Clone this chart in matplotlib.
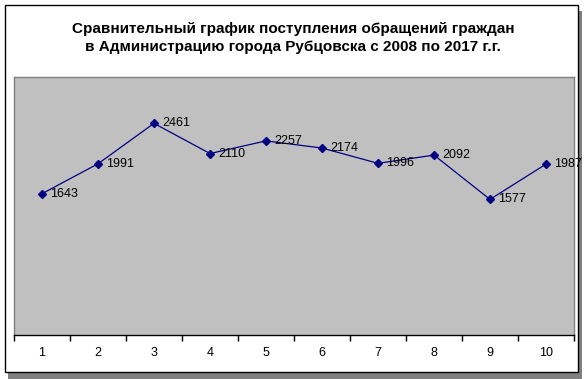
import matplotlib.pyplot as plt
from matplotlib.patches import Rectangle

years = [1, 2, 3, 4, 5, 6, 7, 8, 9, 10]
appeals = [1643, 1991, 2461, 2110, 2257, 2174, 1996, 2092, 1577, 1987]
title = ('Сравнительный график поступления обращений граждан\n'
         'в Администрацию города Рубцовска с 2008 по 2017 г.г.')

plt.rcParams['font.family'] = ['Liberation Sans', 'DejaVu Sans']

fig = plt.figure(figsize=(5.86, 3.79), dpi=100)
fig.patch.set_facecolor('white')

# outer chart frame with shadow
fig.patches.append(Rectangle((8 / 586, 0 / 379), 574 / 586, 368 / 379,
                             transform=fig.transFigure, facecolor='#808080',
                             edgecolor='none', zorder=0))
fig.patches.append(Rectangle((5 / 586, 7 / 379), 573 / 586, 367 / 379,
                             transform=fig.transFigure, facecolor='white',
                             edgecolor='black', linewidth=1.0, zorder=1))

ax = fig.add_axes([14 / 586, 44 / 379, 560 / 586, 258 / 379])
ax.set_facecolor('#C0C0C0')
ax.set_zorder(2)

ax.plot(years, appeals, color='#000080', linewidth=0.9, marker='D',
        markersize=4.5, markerfacecolor='#000080', markeredgecolor='#000080')
for x, v in zip(years, appeals):
    ax.annotate(str(v), (x, v), xytext=(6, 0), textcoords='offset points',
                va='center', ha='left', fontsize=9, color='black')

ax.set_xlim(0.5, 10.5)
ax.set_ylim(0, 3000)
ax.set_yticks([])
ax.set_xticks(years)
ax.set_xticklabels([str(y) for y in years], fontsize=9)
ax.set_xticks([y + 0.5 for y in range(0, 11)], minor=True)
ax.tick_params(axis='x', which='major', length=0, pad=9)
ax.tick_params(axis='x', which='minor', length=4, width=1, color='black', direction='out')

for side in ['left', 'right', 'top']:
    ax.spines[side].set_color('#808080')
    ax.spines[side].set_linewidth(1.0)
ax.spines['bottom'].set_color('black')
ax.spines['bottom'].set_linewidth(1.0)

fig.text(0.5, 1 - 38 / 379, title, ha='center', va='center', fontsize=11,
         fontweight='bold', linespacing=1.3, zorder=3)

fig.savefig('out.png', dpi=100)
